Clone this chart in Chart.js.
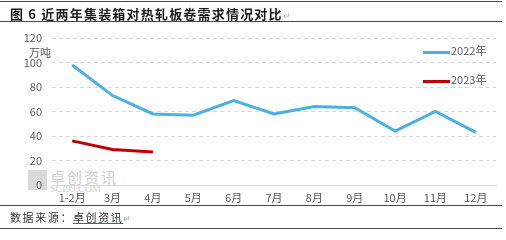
<!DOCTYPE html>
<html>
<head>
<meta charset="utf-8">
<script src="https://cdn.jsdelivr.net/npm/chart.js@4"></script>
<style>
  body { margin: 0; background: #fff; font-family: "Noto Sans CJK SC", sans-serif; }
  #wrap { position: relative; width: 506px; height: 240px; overflow: hidden; }
  #c { position: absolute; left: 0; top: 0; }
  .rule { position: absolute; left: 0; width: 502px; height: 0; border-top: 1.5px solid #4a4a4a; }
  .title { position: absolute; left: 10px; top: 4px; font-size: 13px; font-weight: bold; letter-spacing: 1.2px; color: #1a1a1a; }
  .src { position: absolute; left: 10px; top: 209px; font-size: 11px; letter-spacing: 1.6px; color: #333; }
  .src u { text-decoration-color: #3a5fcd; }
  .mark { color: #aaa; font-weight: normal; font-size: 9px; }
  .unit { position: absolute; left: 29px; top: 44px; font-size: 11px; color: #595959; }
  .leg { position: absolute; font-size: 11px; color: #595959; }
  .leg i { display: inline-block; width: 27px; height: 3px; vertical-align: middle; margin-right: 1px; }
  .wm { position: absolute; left: 28px; top: 168px; color: #cfcfcf; }
  .wm .logo { position: absolute; left: 0; top: 2px; width: 19px; height: 20px; background: #dadada; }
  .wm .cn { position: absolute; left: 22px; top: -2px; font-size: 15px; letter-spacing: 2px; white-space: nowrap; }
  .wm .en { position: absolute; left: 22px; top: 15px; font-size: 10px; font-family: "Liberation Serif", serif; white-space: nowrap; }
</style>
</head>
<body>
<div id="wrap">
  <div class="wm"><div class="logo"></div><div class="cn">卓创资讯</div><div class="en">SCI99.COM</div></div>
  <canvas id="c" width="506" height="240"></canvas>
  <div class="rule" style="top:1px"></div>
  <div class="title">图 6 近两年集装箱对热轧板卷需求情况对比<span class="mark">↵</span></div>
  <div class="rule" style="top:21px"></div>
  <div class="unit">万吨</div>
  <div class="leg" style="left:423px; top:42px"><i style="background:#4BB0E4"></i>2022年</div>
  <div class="leg" style="left:423px; top:71px"><i style="background:#C00000"></i>2023年</div>
  <div class="rule" style="top:205px"></div>
  <div class="src">数据来源：<u>卓创资讯</u><span class="mark">↵</span></div>
  <div class="rule" style="top:228px"></div>
</div>
<script>
const months = ['1-2月', '3月', '4月', '5月', '6月', '7月', '8月', '9月', '10月', '11月', '12月'];
const demand2022 = [98, 73, 58, 57, 69, 58, 64, 63, 44, 60, 43];
const demand2023 = [36, 29, 27];
const yTicks = [0, 20, 40, 60, 80, 100, 120];

new Chart(document.getElementById('c').getContext('2d'), {
  type: 'line',
  data: {
    labels: months,
    datasets: [
      { label: '2022年', data: demand2022, borderColor: '#4BB0E4', borderWidth: 3, pointRadius: 0, tension: 0 },
      { label: '2023年', data: demand2023, borderColor: '#C00000', borderWidth: 3, pointRadius: 0, tension: 0 }
    ]
  },
  options: {
    responsive: false,
    animation: false,
    layout: { padding: { top: 38, right: 10, left: 0, bottom: 0 } },
    plugins: { legend: { display: false }, tooltip: { enabled: false } },
    scales: {
      x: {
        offset: true,
        afterFit: s => { s.height = 55; },
        grid: { display: false, drawTicks: false, offset: true },
        border: { color: '#D9D9D9', width: 1 },
        ticks: { color: '#595959', font: { size: 11, family: 'Noto Sans CJK SC' }, padding: 6, maxRotation: 0 }
      },
      y: {
        min: 0, max: 120,
        afterFit: s => { s.width = 52; },
        afterBuildTicks: s => { s.ticks = yTicks.map(v => ({ value: v })); },
        grid: { color: '#D9D9D9', drawTicks: false },
        border: { display: true, width: 0, color: 'rgba(0,0,0,0)', dash: [4, 3] },
        ticks: { color: '#595959', font: { size: 11, family: 'Noto Sans CJK SC' }, padding: 10 }
      }
    }
  }
});
</script>
</body>
</html>
